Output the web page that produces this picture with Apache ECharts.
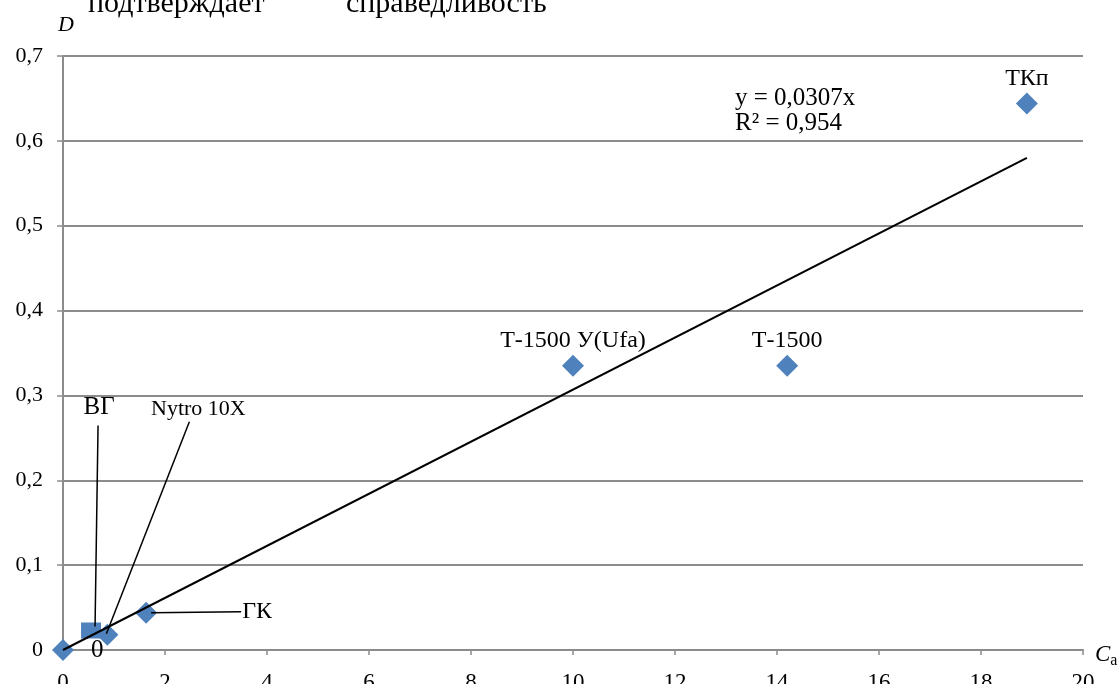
<!DOCTYPE html>
<html>
<head>
<meta charset="utf-8">
<script src="https://cdn.jsdelivr.net/npm/echarts@6/dist/echarts.min.js"></script>
<style>html,body{margin:0;padding:0;background:#fff}#c{width:1120px;height:684px}</style>
</head>
<body>
<div id="c"></div>
<script>
// Data
const pointNames = ['0', 'Nytro 10X', 'ГК', 'Т-1500 У(Ufa)', 'Т-1500', 'ТКп'];
const pointX = [0, 0.87, 1.63, 10.0, 14.2, 18.9];
const pointY = [0, 0.018, 0.044, 0.335, 0.335, 0.644];
const squareNames = ['ВГ'];
const squareX = [0.55];
const squareY = [0.023];
const trendX = [0, 18.9];
const trendY = [0, 0.580];
const xTicks = { min: 0, max: 20, interval: 2 };
const yTicks = { min: 0, max: 0.7, interval: 0.1 };
const equationLines = ['y = 0,0307x', 'R² = 0,954'];

const SERIF = '"Liberation Serif","DejaVu Serif",serif';
const BLUE = '#4F81BD';
const GRID = '#8c8c8c';

const fmt = v => String(+v.toFixed(2)).replace('.', ',');

// label placement (style only): pixel offsets relative to the symbol centre
const leader = {
  'ВГ':        { label: [8, -223],  line: [[4, -4], [7, -205]] },
  'Nytro 10X': { label: [91, -226], line: [[-1, -1], [82, -213]] },
  'ГК':        { label: [111, -1],  line: [[5, 0], [95, -1]] }
};

function makeLayout(names) {
  return function (params) {
    const n = names[params.dataIndex];
    const c = leader[n];
    if (!c) return {};
    const r = params.rect, lr = params.labelRect;
    const sx = r.x + r.width / 2, sy = r.y + r.height / 2;
    const lcx = lr.x + lr.width / 2, lcy = lr.y + lr.height / 2;
    let tx = sx + c.label[0], ty = sy + c.label[1];
    if (n === 'ГК') tx = sx + 96 + lr.width / 2;
    return { dx: tx - lcx, dy: ty - lcy };
  };
}

const mainData = pointNames.map((n, i) => {
  const d = { name: n, value: [pointX[i], pointY[i]] };
  if (n === '0') d.label = { position: 'right', distance: 17, fontSize: 25 };
  else if (n === 'Nytro 10X') d.label = { position: 'inside', fontSize: 22 };
  else if (leader[n]) d.label = { position: 'inside' };
  else d.label = { position: 'top', distance: 2 };
  return d;
});

// leader-line anchors taken from the same data arrays
const leaderData = [];
pointNames.forEach((n, i) => { if (leader[n]) leaderData.push({ name: n, value: [pointX[i], pointY[i]] }); });
squareNames.forEach((n, i) => { if (leader[n]) leaderData.push({ name: n, value: [squareX[i], squareY[i]] }); });

const chart = echarts.init(document.getElementById('c'), null, { renderer: 'canvas' });
chart.setOption({
  animation: false,
  backgroundColor: '#fff',
  grid: { left: 63, right: 37, top: 56, bottom: 34, containLabel: false, outerBoundsMode: 'none' },
  xAxis: {
    type: 'value', min: xTicks.min, max: xTicks.max, interval: xTicks.interval,
    axisLine: { show: true, onZero: false, lineStyle: { color: GRID, width: 2 } },
    axisTick: { show: true, length: 5, lineStyle: { color: GRID, width: 1.5 } },
    splitLine: { show: false },
    axisLabel: { color: '#000', fontFamily: SERIF, fontSize: 23, margin: 21, formatter: v => fmt(v) },
    name: '{c|C}{a|a}', nameLocation: 'end', nameGap: 12,
    nameTextStyle: {
      rich: {
        c: { fontFamily: SERIF, fontStyle: 'italic', fontSize: 23, color: '#000', lineHeight: 26, verticalAlign: 'top' },
        a: { fontFamily: SERIF, fontSize: 16, color: '#000', lineHeight: 18, verticalAlign: 'bottom' }
      },
      padding: [12, 0, 0, 0]
    }
  },
  yAxis: {
    type: 'value', min: yTicks.min, max: yTicks.max, interval: yTicks.interval,
    axisLine: { show: true, lineStyle: { color: GRID, width: 2 } },
    axisTick: { show: true, length: 6, lineStyle: { color: GRID, width: 1.5 } },
    splitLine: { show: true, lineStyle: { color: GRID, width: 2 } },
    axisLabel: { color: '#000', fontFamily: SERIF, fontSize: 22, margin: 20, formatter: v => fmt(v) },
    name: 'D', nameLocation: 'end', nameGap: 20,
    nameTextStyle: { fontFamily: SERIF, fontStyle: 'italic', fontSize: 22, color: '#000', padding: [0, 0, 0, 6] }
  },
  graphic: [
    { type: 'text', left: 88, top: -11, style: { text: 'подтверждает', font: '30px ' + SERIF, fill: '#000' } },
    { type: 'text', left: 346, top: -11, style: { text: 'справедливость', font: '30px ' + SERIF, fill: '#000' } },
    { type: 'text', left: 735, top: 86, style: { text: equationLines.join('\n'), font: '25px ' + SERIF, fill: '#000', lineHeight: 25 } }
  ],
  series: [
    {
      type: 'scatter', name: 'points', symbol: 'diamond', symbolSize: 22,
      itemStyle: { color: BLUE, opacity: 1 },
      label: { show: true, formatter: p => p.name, color: '#000', fontFamily: SERIF, fontSize: 24 },
      labelLine: { show: false },
      labelLayout: makeLayout(pointNames),
      data: mainData, z: 2
    },
    {
      type: 'scatter', name: 'square', symbol: 'rect', symbolSize: [20, 16],
      itemStyle: { color: BLUE, opacity: 1 },
      label: { show: true, position: 'inside', formatter: p => p.name, color: '#000', fontFamily: SERIF, fontSize: 25 },
      labelLine: { show: false },
      labelLayout: makeLayout(squareNames),
      data: squareNames.map((n, i) => ({ name: n, value: [squareX[i], squareY[i]] })), z: 2
    },
    {
      type: 'custom', name: 'leaders', silent: true, z: 4,
      data: leaderData,
      renderItem: function (params, api) {
        const c = leader[leaderData[params.dataIndex].name];
        const p = api.coord([api.value(0), api.value(1)]);
        return {
          type: 'line',
          shape: { x1: p[0] + c.line[0][0], y1: p[1] + c.line[0][1], x2: p[0] + c.line[1][0], y2: p[1] + c.line[1][1] },
          style: { stroke: '#000', lineWidth: 1.5 }
        };
      }
    },
    {
      type: 'line', name: 'trend', showSymbol: false, symbol: 'none',
      lineStyle: { color: '#000', width: 2 },
      data: trendX.map((x, i) => [x, trendY[i]]), z: 5, silent: true
    }
  ]
});
</script>
</body>
</html>
